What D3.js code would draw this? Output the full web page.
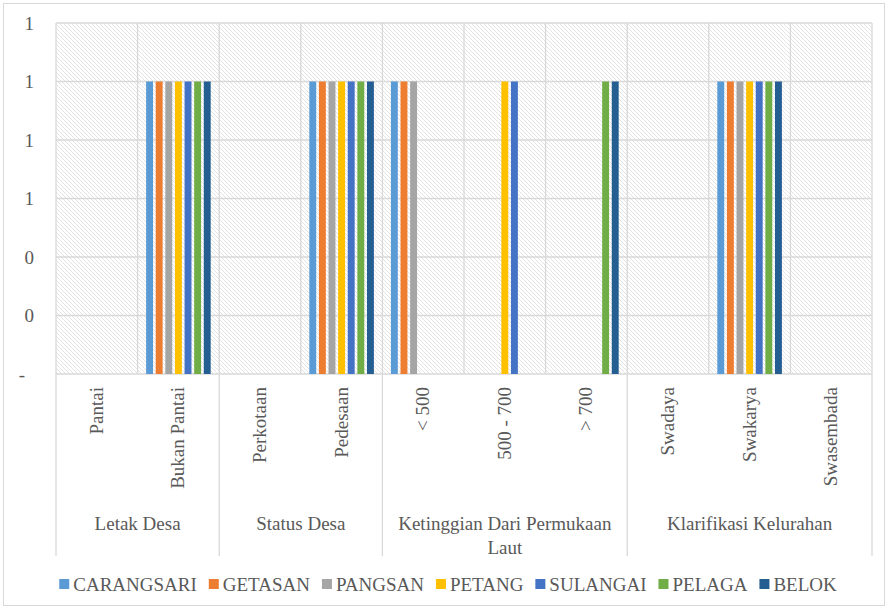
<!DOCTYPE html>
<html lang="id">
<head>
<meta charset="UTF-8">
<title>Desa</title>
<script src="https://cdn.jsdelivr.net/npm/d3@7"></script>
<style>
    body {margin: 0; background: #fff;}
    text {font-family: "Liberation Serif", "DejaVu Serif", serif; fill: #595959;}
</style>
</head>
<body>
<script>
    const categories = ["Pantai", "Bukan Pantai", "Perkotaan", "Pedesaan", "< 500", "500 - 700", "> 700", "Swadaya", "Swakarya", "Swasembada"];
    const groups = [
        {name: "Letak Desa", count: 2},
        {name: "Status Desa", count: 2},
        {name: "Ketinggian Dari Permukaan Laut", count: 3},
        {name: "Klarifikasi Kelurahan", count: 3}
    ];
    const series = ["CARANGSARI", "GETASAN", "PANGSAN", "PETANG", "SULANGAI", "PELAGA", "BELOK"];
    const colors = ["#5B9BD5", "#ED7D31", "#A5A5A5", "#FFC000", "#4472C4", "#70AD47", "#255E91"];
    // one row per series, one value per category
    const values = [
        [0, 1, 0, 1, 1, 0, 0, 0, 1, 0],
        [0, 1, 0, 1, 1, 0, 0, 0, 1, 0],
        [0, 1, 0, 1, 1, 0, 0, 0, 1, 0],
        [0, 1, 0, 1, 0, 1, 0, 0, 1, 0],
        [0, 1, 0, 1, 0, 1, 0, 0, 1, 0],
        [0, 1, 0, 1, 0, 0, 1, 0, 1, 0],
        [0, 1, 0, 1, 0, 0, 1, 0, 1, 0]
    ];
    const yTicks = [0, 0.2, 0.4, 0.6, 0.8, 1.0, 1.2];

    const width = 888, height = 608;
    const plot = {left: 56, right: 872, top: 23, bottom: 374};
    const grid = "#d9d9d9";

    const svg = d3.select("body").append("svg")
        .attr("width", width).attr("height", height);

    // hatch pattern for plot background
    const defs = svg.append("defs");
    const pat = defs.append("pattern").attr("id", "hatch")
        .attr("patternUnits", "userSpaceOnUse")
        .attr("width", 4).attr("height", 4);
    pat.append("rect").attr("width", 4).attr("height", 4).attr("fill", "#fff");
    pat.append("path").attr("d", "M-1,-1 L5,5 M-1,3 L1,5 M3,-1 L5,1")
        .attr("stroke", "#e3e3e3").attr("stroke-width", 1);

    // chart border
    svg.append("rect").attr("x", 3.5).attr("y", 3.5)
        .attr("width", 881).attr("height", 602)
        .attr("fill", "none").attr("stroke", grid);

    const x0 = d3.scaleBand().domain(categories).range([plot.left, plot.right]);
    const x1 = d3.scaleBand().domain(series).range([8.5, x0.bandwidth() - 8.5]).paddingInner(0.28);
    const y = d3.scaleLinear().domain([0, 1.2]).range([plot.bottom, plot.top]);

    svg.append("rect").attr("x", plot.left).attr("y", plot.top)
        .attr("width", plot.right - plot.left).attr("height", plot.bottom - plot.top)
        .attr("fill", "url(#hatch)");

    // horizontal gridlines
    svg.append("g").selectAll("line").data(yTicks).join("line")
        .attr("x1", plot.left).attr("x2", plot.right)
        .attr("y1", d => y(d)).attr("y2", d => y(d))
        .attr("stroke", grid).attr("stroke-width", 1.3);

    // vertical gridlines at category boundaries
    const bounds = categories.map(c => x0(c)).concat([plot.right]);
    svg.append("g").selectAll("line").data(bounds).join("line")
        .attr("x1", d => d).attr("x2", d => d)
        .attr("y1", plot.top).attr("y2", plot.bottom)
        .attr("stroke", grid).attr("stroke-width", 1.3);

    // group separators below the axis
    let idx = 0;
    const groupPos = groups.map(g => {
        const start = x0(categories[idx]);
        idx += g.count;
        const end = idx < categories.length ? x0(categories[idx]) : plot.right;
        return {name: g.name, start, end};
    });
    const seps = [plot.left].concat(groupPos.map(g => g.end));
    svg.append("g").selectAll("line").data(seps).join("line")
        .attr("x1", d => d).attr("x2", d => d)
        .attr("y1", plot.bottom).attr("y2", 556)
        .attr("stroke", grid).attr("stroke-width", 1.3);

    // bars
    const bars = [];
    series.forEach((s, i) => categories.forEach((c, j) => {
        if (values[i][j] > 0) bars.push({s, c, v: values[i][j], color: colors[i]});
    }));
    svg.append("g").selectAll("rect").data(bars).join("rect")
        .attr("x", d => x0(d.c) + x1(d.s))
        .attr("y", d => y(d.v))
        .attr("width", x1.bandwidth())
        .attr("height", d => y(0) - y(d.v))
        .attr("fill", d => d.color);

    // y axis labels
    const fmt = d => d === 0 ? "-" : d3.format(".0f")(d);
    svg.append("g").selectAll("text").data(yTicks).join("text")
        .attr("x", d => d === 0 ? 25 : 34)
        .attr("y", d => y(d))
        .attr("dy", "0.35em")
        .attr("text-anchor", "end")
        .style("font-size", "19px")
        .text(fmt);

    // rotated category labels
    svg.append("g").selectAll("text").data(categories).join("text")
        .attr("transform", d => `translate(${x0(d) + x0.bandwidth() / 2 + 6},387) rotate(-90)`)
        .attr("text-anchor", "end")
        .style("font-size", "19px")
        .text(d => d);

    // group labels, wrapped to fit the span
    groupPos.forEach(g => {
        const t = svg.append("text")
            .attr("x", (g.start + g.end) / 2).attr("y", 530)
            .attr("text-anchor", "middle")
            .style("font-size", "19px");
        const words = g.name.split(" ");
        let line = [];
        let ts = t.append("tspan").attr("x", (g.start + g.end) / 2).attr("dy", 0);
        words.forEach(w => {
            line.push(w);
            ts.text(line.join(" "));
            if (ts.node().getComputedTextLength() > g.end - g.start - 14 && line.length > 1) {
                line.pop();
                ts.text(line.join(" "));
                line = [w];
                ts = t.append("tspan").attr("x", (g.start + g.end) / 2).attr("dy", "1.25em").text(w);
            }
        });
    });

    // legend
    const legend = svg.append("g");
    let lx = 0;
    series.forEach((s, i) => {
        const item = legend.append("g").attr("transform", `translate(${lx},0)`);
        item.append("rect").attr("x", 0).attr("y", -5).attr("width", 10).attr("height", 10).attr("fill", colors[i]);
        const t = item.append("text").attr("x", 14).attr("dy", "0.35em").style("font-size", "19px").text(s);
        lx += 14 + t.node().getComputedTextLength() + 12;
    });
    lx -= 12;
    legend.attr("transform", `translate(${(width - lx) / 2 + 4},584)`);
</script>
</body>
</html>
